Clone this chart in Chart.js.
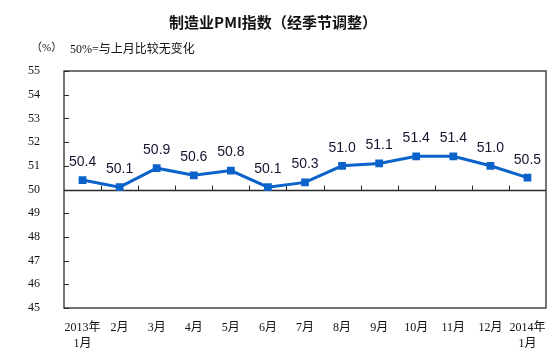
<!DOCTYPE html>
<html>
<head>
<meta charset="utf-8">
<script src="https://cdn.jsdelivr.net/npm/chart.js@4"></script>
<style>
  html, body { margin: 0; padding: 0; background: #ffffff; }
  #wrap { position: relative; width: 553px; height: 364px; }
</style>
</head>
<body>
<div id="wrap"><canvas id="chart" width="553" height="364"></canvas></div>
<script>
// monthly manufacturing PMI, seasonally adjusted
const months = [['2013年', '1月'], '2月', '3月', '4月', '5月', '6月', '7月', '8月', '9月', '10月', '11月', '12月', ['2014年', '1月']];
const pmi = [50.4, 50.1, 50.9, 50.6, 50.8, 50.1, 50.3, 51.0, 51.1, 51.4, 51.4, 51.0, 50.5];
const yTicks = [45, 46, 47, 48, 49, 50, 51, 52, 53, 54, 55];

const titleText = '制造业PMI指数（经季节调整）';
const unitText = '（%）';
const noteText = '50%=与上月比较无变化';

const lineColor = '#0b63c9';
const frameColor = '#2a2a2a';

// box, 50 line and the small inside ticks
const framePlugin = {
  id: 'frame',
  beforeDatasetsDraw(chart) {
    const ctx = chart.ctx;
    const a = chart.chartArea;
    const x = chart.scales.x;
    const y = chart.scales.y;
    ctx.save();
    ctx.strokeStyle = frameColor;
    ctx.lineWidth = 1.3;
    ctx.strokeRect(a.left, a.top, a.right - a.left, a.bottom - a.top);
    var y50 = Math.round(y.getPixelForValue(50)) + 0.5;
    ctx.beginPath();
    ctx.moveTo(a.left, y50);
    ctx.lineTo(a.right, y50);
    ctx.stroke();
    ctx.lineWidth = 1;
    for (var i = 1; i < months.length; i++) {
      var bx = Math.round((x.getPixelForValue(i - 1) + x.getPixelForValue(i)) / 2) + 0.5;
      ctx.beginPath();
      ctx.moveTo(bx, y50);
      ctx.lineTo(bx, y50 - 5);
      ctx.stroke();
    }
    for (var j = 0; j < yTicks.length; j++) {
      var ty = Math.round(y.getPixelForValue(yTicks[j])) + 0.5;
      ctx.beginPath();
      ctx.moveTo(a.left, ty);
      ctx.lineTo(a.left + 5, ty);
      ctx.stroke();
    }
    ctx.restore();
  },
  afterDatasetsDraw(chart) {
    const ctx = chart.ctx;
    const meta = chart.getDatasetMeta(0);
    ctx.save();
    ctx.fillStyle = '#151530';
    ctx.font = '14px "Liberation Sans", Arial, sans-serif';
    ctx.textAlign = 'center';
    ctx.textBaseline = 'middle';
    meta.data.forEach(function(pt, i) {
      ctx.fillText(pmi[i].toFixed(1), pt.x, pt.y - 18);
    });
    // title and notes
    ctx.fillStyle = '#111111';
    ctx.font = 'bold 15px "Noto Sans CJK SC", sans-serif';
    ctx.fillText(titleText, 273, 22);
    ctx.textAlign = 'left';
    ctx.font = '11px "Liberation Serif", "Noto Sans CJK SC", serif';
    ctx.fillText(unitText, 31, 48);
    ctx.font = '12px "Liberation Serif", "Noto Sans CJK SC", serif';
    ctx.fillText(noteText, 70, 50);
    ctx.restore();
  }
};

const data = {
  labels: months,
  datasets: [{
    label: 'PMI',
    data: pmi,
    borderColor: lineColor,
    backgroundColor: lineColor,
    borderWidth: 3,
    pointStyle: 'rect',
    pointRadius: 5.5,
    pointHoverRadius: 5.5,
    pointBorderWidth: 0,
    tension: 0
  }]
};

const config = {
  type: 'line',
  data: data,
  options: {
    responsive: false,
    animation: false,
    events: [],
    layout: { padding: { top: 71, right: 7, bottom: 0, left: 0 } },
    plugins: {
      legend: { display: false },
      tooltip: { enabled: false },
      title: { display: false }
    },
    scales: {
      x: {
        offset: true,
        grid: { display: false },
        border: { display: false },
        afterFit: function(s) { s.height = 56; s.paddingLeft = 0; s.paddingRight = 0; },
        ticks: {
          padding: 3,
          maxRotation: 0,
          autoSkip: false,
          color: '#111111',
          font: { family: '"Liberation Serif", "Noto Sans CJK SC", serif', size: 12, lineHeight: 1.4 }
        }
      },
      y: {
        min: 45,
        max: 55,
        afterFit: function(s) { s.width = 64; s.paddingTop = 0; s.paddingBottom = 0; },
        afterBuildTicks: function(s) { s.ticks = yTicks.map(function(v) { return { value: v }; }); },
        grid: { display: false },
        border: { display: false },
        ticks: {
          padding: 16,
          color: '#111111',
          font: { family: '"Liberation Serif", serif', size: 12 }
        }
      }
    }
  },
  plugins: [framePlugin]
};

const chart = new Chart(document.getElementById('chart'), config);
</script>
</body>
</html>
